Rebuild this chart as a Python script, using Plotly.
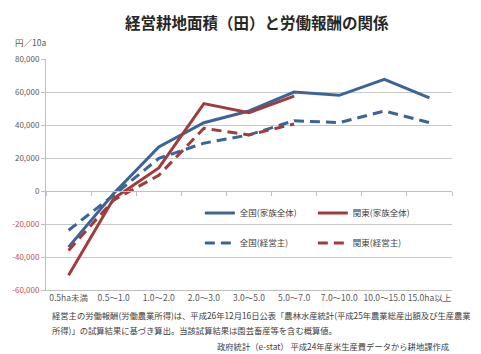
import plotly.graph_objects as go

categories = ["0.5ha未満", "0.5～1.0", "1.0～2.0", "2.0～3.0", "3.0～5.0",
              "5.0～7.0", "7.0～10.0", "10.0～15.0", "15.0ha以上"]
zenkoku_family = [-34000, -1500, 26700, 41400, 48500, 60000, 58000, 67700, 56500]
kanto_family = [-51000, -4500, 14000, 53000, 47500, 57500]
zenkoku_owner = [-23800, -2500, 19800, 29000, 34000, 42600, 41400, 48500, 41400]
kanto_owner = [-36000, -5500, 9500, 38000, 34000, 40600]

ytick_vals = [80000, 60000, 40000, 20000, 0, -20000, -40000, -60000]
ytick_text = ["80,000", "60,000", "40,000", "20,000", "0",
              "-20,000", "-40,000", "-60,000"]

BLUE = "#3B6497"
RED = "#A23B3B"
NEG = "#C0504D"
FONT = "Noto Sans CJK JP"

W, H = 481, 354
ML, MR, MT, MB = 43, 29, 59, 64
PW, PH = W - ML - MR, H - MT - MB


def px(x, y):
    return (x - ML) / PW, 1 - (y - MT) / PH


neg_vals = [v for v in ytick_vals if v < 0]
neg_text = [t for v, t in zip(ytick_vals, ytick_text) if v < 0]

fig = go.Figure()
fig.add_trace(go.Scatter(x=categories, y=zenkoku_family, mode="lines",
                         name="全国(家族全体)", line=dict(color=BLUE, width=3),
                         legend="legend"))
fig.add_trace(go.Scatter(x=categories[:len(kanto_family)], y=kanto_family, mode="lines",
                         name="関東(家族全体)", line=dict(color=RED, width=3),
                         legend="legend"))
fig.add_trace(go.Scatter(x=categories, y=zenkoku_owner, mode="lines",
                         name="全国(経営主)", line=dict(color=BLUE, width=3, dash="10px,6px"),
                         legend="legend2"))
fig.add_trace(go.Scatter(x=categories[:len(kanto_owner)], y=kanto_owner, mode="lines",
                         name="関東(経営主)", line=dict(color=RED, width=3, dash="10px,6px"),
                         legend="legend2"))

# helper traces for the zero axis and red negative tick labels
fig.add_trace(go.Scatter(x=[None], y=[None], xaxis="x2", showlegend=False))
fig.add_trace(go.Scatter(x=[None], y=[None], yaxis="y2", showlegend=False))

ymin, ymax = -60000, 80000
zero_pos = (0 - ymin) / (ymax - ymin)

ann = []


def add_text(text, x, y, size, color="#404040", xanchor="left", bold=False):
    xp, yp = px(x, y)
    ann.append(dict(text=f"<b>{text}</b>" if bold else text, x=xp, y=yp,
                    xref="paper", yref="paper", xanchor=xanchor, yanchor="middle",
                    showarrow=False, font=dict(size=size, color=color, family=FONT)))


add_text("経営耕地面積（田）と労働報酬の関係", 256, 22, 15.5, "#262626", "center", True)
add_text("円／10a", 10, 42, 8.5, "#595959")
add_text("経営主の労働報酬(労働農業所得)は、平成26年12月16日公表「農林水産統計(平成25年農業総産出額及び生産農業",
         47, 315, 8.3)
add_text("所得)」の試算結果に基づき算出。当該試算結果は園芸畜産等を含む概算値。", 47, 330, 8.3)
add_text("政府統計（e-stat） 平成24年産米生産費データから耕地課作成", 213, 346, 8.3)

lx, ly1 = px(198, 213)
_, ly2 = px(198, 243)

fig.update_layout(
    width=W, height=H,
    margin=dict(l=ML, r=MR, t=MT, b=MB),
    paper_bgcolor="white", plot_bgcolor="white",
    font=dict(family=FONT, color="#595959", size=8),
    showlegend=True,
    xaxis=dict(type="category", range=[-0.5, 8.5], showgrid=False,
               showline=True, linecolor="#BFBFBF", linewidth=1,
               ticks="", tickfont=dict(size=8.5, color="#595959")),
    xaxis2=dict(overlaying="x", anchor="free", position=zero_pos,
                range=[-0.5, 8.5], showgrid=False, showline=True,
                linecolor="#BFBFBF", linewidth=1, ticks="outside",
                ticklen=4, tickcolor="#BFBFBF",
                tickvals=[i - 0.5 for i in range(len(categories) + 1)],
                showticklabels=False, zeroline=False),
    yaxis=dict(range=[ymin, ymax], tickvals=ytick_vals,
               ticktext=[t if v >= 0 else "" for v, t in zip(ytick_vals, ytick_text)],
               showgrid=True, gridcolor="#C8C8C8", gridwidth=1,
               showline=True, linecolor="#BFBFBF", linewidth=1,
               ticks="outside", ticklen=4, tickcolor="#BFBFBF",
               zeroline=False, tickfont=dict(size=8, color="#595959")),
    yaxis2=dict(overlaying="y", side="left", range=[ymin, ymax],
                tickvals=neg_vals, ticktext=neg_text, showgrid=False,
                showline=False, ticks="outside", ticklen=4, tickcolor="#BFBFBF",
                zeroline=False, tickfont=dict(size=8, color=NEG)),
    legend=dict(orientation="h", x=lx, y=ly1, xanchor="left", yanchor="middle",
                bgcolor="rgba(0,0,0,0)", entrywidth=68, itemwidth=30,
                font=dict(size=8.5, color="#404040", family=FONT)),
    legend2=dict(orientation="h", x=lx, y=ly2, xanchor="left", yanchor="middle",
                 bgcolor="rgba(0,0,0,0)", entrywidth=68, itemwidth=30,
                 font=dict(size=8.5, color="#404040", family=FONT)),
    annotations=ann,
)

fig.write_html("out.html")
